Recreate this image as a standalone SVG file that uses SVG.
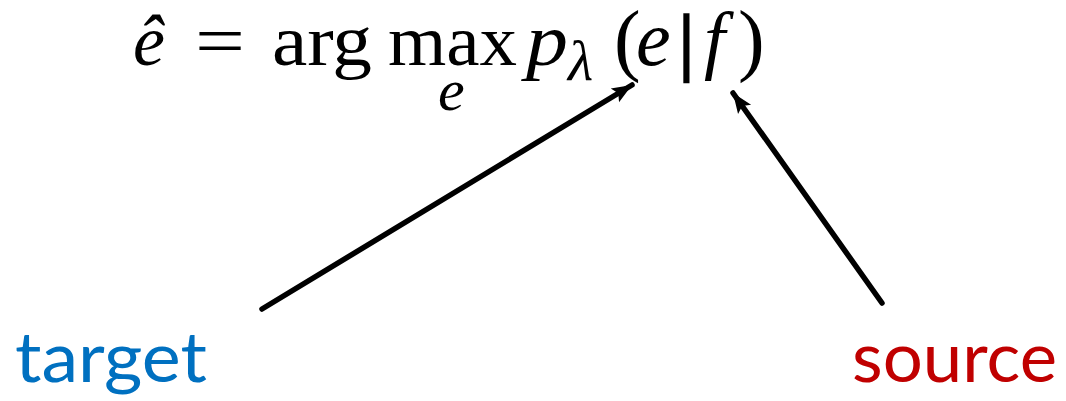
<svg xmlns="http://www.w3.org/2000/svg" width="1066" height="401" viewBox="0 0 1066 401">
<defs>
<style>
.m{font-family:"Liberation Serif","Times New Roman",serif;fill:#000}
.i{font-style:italic}
.lbl{font-family:Lato,"Liberation Sans",sans-serif;font-size:70px}
.conn line{stroke:#000;stroke-width:5.5;stroke-linecap:round;fill:none}
</style>
<marker id="ah" markerUnits="userSpaceOnUse" markerWidth="22" markerHeight="22" viewBox="0 0 22 22" refX="20" refY="11" orient="auto">
<path d="M0,3 L20,11 L0,19 L4,11 Z" fill="#000"/>
</marker>
</defs>
<rect width="1066" height="401" fill="#fff"/>
<g id="equation">
<text class="m i" x="133" y="65" font-size="72">ê</text>
<text class="m" x="195" y="65" font-size="72" textLength="50" lengthAdjust="spacingAndGlyphs">=</text>
<text class="m" x="272" y="65" font-size="72" textLength="100" lengthAdjust="spacingAndGlyphs">arg</text>
<text class="m" x="388" y="65" font-size="72" textLength="129" lengthAdjust="spacingAndGlyphs">max</text>
<text class="m i" x="438" y="110" font-size="60">e</text>
<text class="m i" x="526" y="65" font-size="74" textLength="42" lengthAdjust="spacingAndGlyphs">p</text>
<text class="m i" x="568" y="80" font-size="58">λ</text>
<text class="m" x="614" y="66" font-size="80">(</text>
<text class="m i" x="636" y="65" font-size="78">e</text>
<text class="m" x="679" y="66" font-size="74" stroke="#000" stroke-width="2.5">|</text>
<text class="m i" x="704" y="65" font-size="76">f</text>
<text class="m" x="738" y="66" font-size="80">)</text>
</g>
<g id="target">
<text class="lbl" x="15" y="382" fill="#0070C0" textLength="192" lengthAdjust="spacingAndGlyphs">target</text>
</g>
<g id="source">
<text class="lbl" x="852" y="382" fill="#C00000" textLength="205" lengthAdjust="spacingAndGlyphs">source</text>
</g>
<g class="conn" id="connectors">
<line x1="262" y1="309" x2="632" y2="85" marker-end="url(#ah)"/>
<line x1="882" y1="303" x2="733" y2="93" marker-end="url(#ah)"/>
</g>
</svg>
